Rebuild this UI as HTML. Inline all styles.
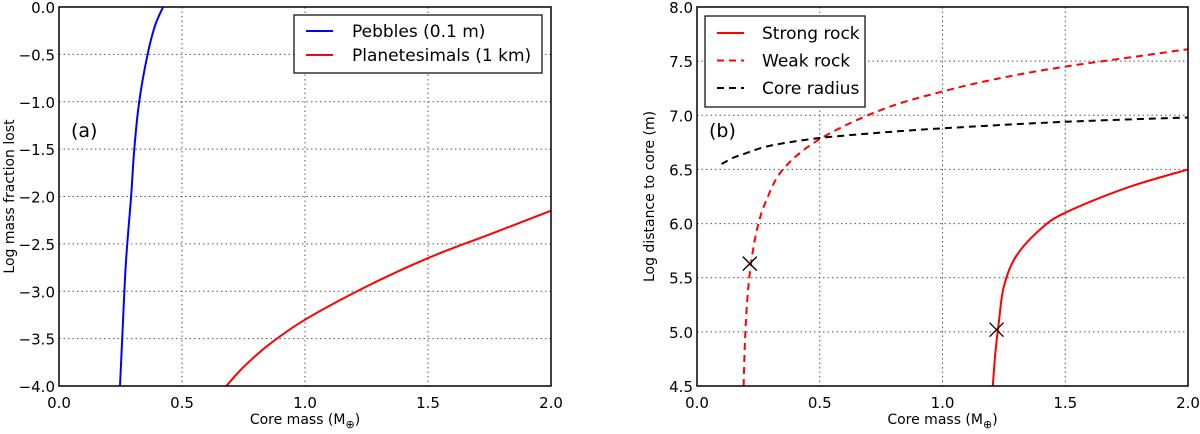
<!DOCTYPE html>
<html><head><meta charset="utf-8"><style>
body{margin:0;background:#fff;}
svg text{font-family:"DejaVu Sans","Liberation Sans",sans-serif;fill:#000;}
</style></head><body>
<svg id="chart" width="1200" height="429" xmlns="http://www.w3.org/2000/svg"></svg>
<script>
const xTicks=["0.0","0.5","1.0","1.5","2.0"];
const xTickVals=[0,0.5,1,1.5,2];
const leftYTicks=["0.0","\u22120.5","\u22121.0","\u22121.5","\u22122.0","\u22122.5","\u22123.0","\u22123.5","\u22124.0"];
const leftYVals=[0,-0.5,-1,-1.5,-2,-2.5,-3,-3.5,-4];
const rightYTicks=["8.0","7.5","7.0","6.5","6.0","5.5","5.0","4.5"];
const rightYVals=[8,7.5,7,6.5,6,5.5,5,4.5];
const pebblesX=[0.248,0.257,0.272,0.293,0.306,0.326,0.36,0.39,0.423];
const pebblesY=[-4,-3.5,-2.7,-2,-1.5,-1,-0.5,-0.2,0];
const planetX=[0.68,0.75,0.85,1.0,1.25,1.5,1.75,2.0];
const planetY=[-4,-3.8,-3.57,-3.3,-2.95,-2.65,-2.4,-2.15];
const strongX=[1.205,1.215,1.23,1.25,1.3,1.4,1.5,1.75,2.0];
const strongY=[4.5,4.8,5.1,5.42,5.7,5.95,6.1,6.33,6.5];
const weakX=[0.19,0.195,0.205,0.22,0.245,0.28,0.35,0.5,0.75,1.0,1.25,1.5,1.75,2.0];
const weakY=[4.5,4.9,5.3,5.63,5.95,6.2,6.5,6.78,7.05,7.22,7.35,7.45,7.53,7.61];
const coreX=[0.1,0.15,0.2,0.3,0.5,0.75,1.0,1.5,2.0];
const coreY=[6.55,6.61,6.65,6.72,6.79,6.84,6.88,6.94,6.98];
const markX=[0.215,1.22];
const markY=[5.63,5.02];

const svg=document.getElementById('chart');
const NS='http://www.w3.org/2000/svg';
function mk(tag,attrs,parent){const e=document.createElementNS(NS,tag);for(const k in attrs)e.setAttribute(k,attrs[k]);(parent||svg).appendChild(e);return e;}
function smooth(pts){
  let d='M'+pts[0][0].toFixed(1)+','+pts[0][1].toFixed(1);
  for(let i=0;i<pts.length-1;i++){
    const p0=pts[Math.max(0,i-1)],p1=pts[i],p2=pts[i+1],p3=pts[Math.min(pts.length-1,i+2)];
    const c1=[p1[0]+(p2[0]-p0[0])/6,p1[1]+(p2[1]-p0[1])/6];
    const c2=[p2[0]-(p3[0]-p1[0])/6,p2[1]-(p3[1]-p1[1])/6];
    d+=` C${c1[0].toFixed(1)},${c1[1].toFixed(1)} ${c2[0].toFixed(1)},${c2[1].toFixed(1)} ${p2[0].toFixed(1)},${p2[1].toFixed(1)}`;
  }
  return d;
}

function panel(p){
  const g=mk('g',{});
  
  
  const sx=v=>p.x0+(v-0)/(2-0)*(p.x1-p.x0);
  const sy=v=>p.y1-(v-p.ymin)/(p.ymax-p.ymin)*(p.y1-p.y0);
  xTickVals.forEach((v,i)=>{
    if(i>0&&i<xTickVals.length-1){const l=mk('line',{x1:sx(v),x2:sx(v),y1:p.y0,y2:p.y1,stroke:'#555','stroke-width':1,'stroke-dasharray':'1.5,3'},g);}
    const t=mk('text',{x:sx(v),y:p.y1+22,'font-size':15,'text-anchor':'middle'},g);t.textContent=xTicks[i];
    
  });
  p.yVals.forEach((v,i)=>{
    if(i>0&&i<p.yVals.length-1){const l=mk('line',{x1:p.x0,x2:p.x1,y1:sy(v),y2:sy(v),stroke:'#555','stroke-width':1,'stroke-dasharray':'1.5,3'},g);}
    const t=mk('text',{x:p.x0-4,y:sy(v)+6,'font-size':15,'text-anchor':'end'},g);t.textContent=p.yTicks[i];
    
  });
  const cp='clip-'+p.name;
  const cl=mk('clipPath',{id:cp},g);mk('rect',{x:p.x0,y:p.y0,width:p.x1-p.x0,height:p.y1-p.y0},cl);
  p.series.forEach(s=>{
    const d=smooth(s.xs.map((x,i)=>[sx(x),sy(s.ys[i])]));
    const e=mk('path',{d:d,fill:'none',stroke:s.color,'stroke-width':2,'clip-path':'url(#'+cp+')'},g);
    if(s.dash)e.setAttribute('stroke-dasharray','7,5');
    
  });
  (p.marks||[]).forEach(m=>{
    const cx=sx(m[0]),cy=sy(m[1]);
    const e=mk('path',{d:`M${cx-7},${cy-7}L${cx+7},${cy+7}M${cx-7},${cy+7}L${cx+7},${cy-7}`,stroke:'#000','stroke-width':1.3},g);
    
  });
  const fr=mk('rect',{x:p.x0,y:p.y0,width:p.x1-p.x0,height:p.y1-p.y0,fill:'none',stroke:'#000','stroke-width':1.5},g);
  
  const xl=mk('text',{x:(p.x0+p.x1)/2,y:p.y1+38,'font-size':14,'text-anchor':'middle'},g);
  xl.innerHTML='Core mass (M<tspan dy="4" font-size="11">\u2295</tspan><tspan dy="-4">)</tspan>';
  
  const yl=mk('text',{x:0,y:0,'font-size':14,'text-anchor':'middle',transform:`translate(${p.ylx},${(p.y0+p.y1)/2}) rotate(-90)`},g);
  yl.textContent=p.ylabel;
  
  const pl=mk('text',{x:p.x0+12,y:p.labY,'font-size':19},g);pl.textContent=p.panelLabel;
  
  const L=p.legend;
  const lb=mk('rect',{x:L.x,y:L.y,width:L.w,height:L.h,fill:'#fff',stroke:'#000','stroke-width':1.2},g);
  
  L.items.forEach((it,i)=>{
    const yy=L.y+L.first+i*L.step;
    const ln=mk('line',{x1:L.x+L.s0,x2:L.x+L.s1,y1:yy,y2:yy,stroke:it.color,'stroke-width':2},g);
    if(it.dash)ln.setAttribute('stroke-dasharray','7,5');
    
    const t=mk('text',{x:L.x+L.tx,y:yy+6,'font-size':17},g);t.textContent=it.label;
    
  });
}
panel({name:'panel-a',x0:59,x1:551,y0:7,y1:386,ymin:-4,ymax:0,yVals:leftYVals,yTicks:leftYTicks,
  ylabel:'Log mass fraction lost',ylx:14,panelLabel:'(a)',labY:137,
  series:[{id:'pebbles-line',xs:pebblesX,ys:pebblesY,color:'#0000ff'},{id:'planetesimals-line',xs:planetX,ys:planetY,color:'#ff0000'}],
  legend:{x:294,y:15,w:248,h:58,s0:12,s1:39,tx:58,first:16,step:24,items:[{label:'Pebbles (0.1 m)',color:'#0000ff'},{label:'Planetesimals (1 km)',color:'#ff0000'}]}});
panel({name:'panel-b',x0:697,x1:1188,y0:7,y1:386,ymin:4.5,ymax:8,yVals:rightYVals,yTicks:rightYTicks,
  ylabel:'Log distance to core (m)',ylx:654,panelLabel:'(b)',labY:137,
  series:[{id:'strong-rock-line',xs:strongX,ys:strongY,color:'#ff0000'},{id:'weak-rock-line',xs:weakX,ys:weakY,color:'#ff0000',dash:true},{id:'core-radius-line',xs:coreX,ys:coreY,color:'#000',dash:true}],
  marks:markX.map((x,i)=>[x,markY[i]]),
  legend:{x:705,y:16,w:160,h:91,s0:12,s1:39,tx:57,first:17,step:27.5,items:[{label:'Strong rock',color:'#ff0000'},{label:'Weak rock',color:'#ff0000',dash:true},{label:'Core radius',color:'#000',dash:true}]}});
</script>
</body></html>
